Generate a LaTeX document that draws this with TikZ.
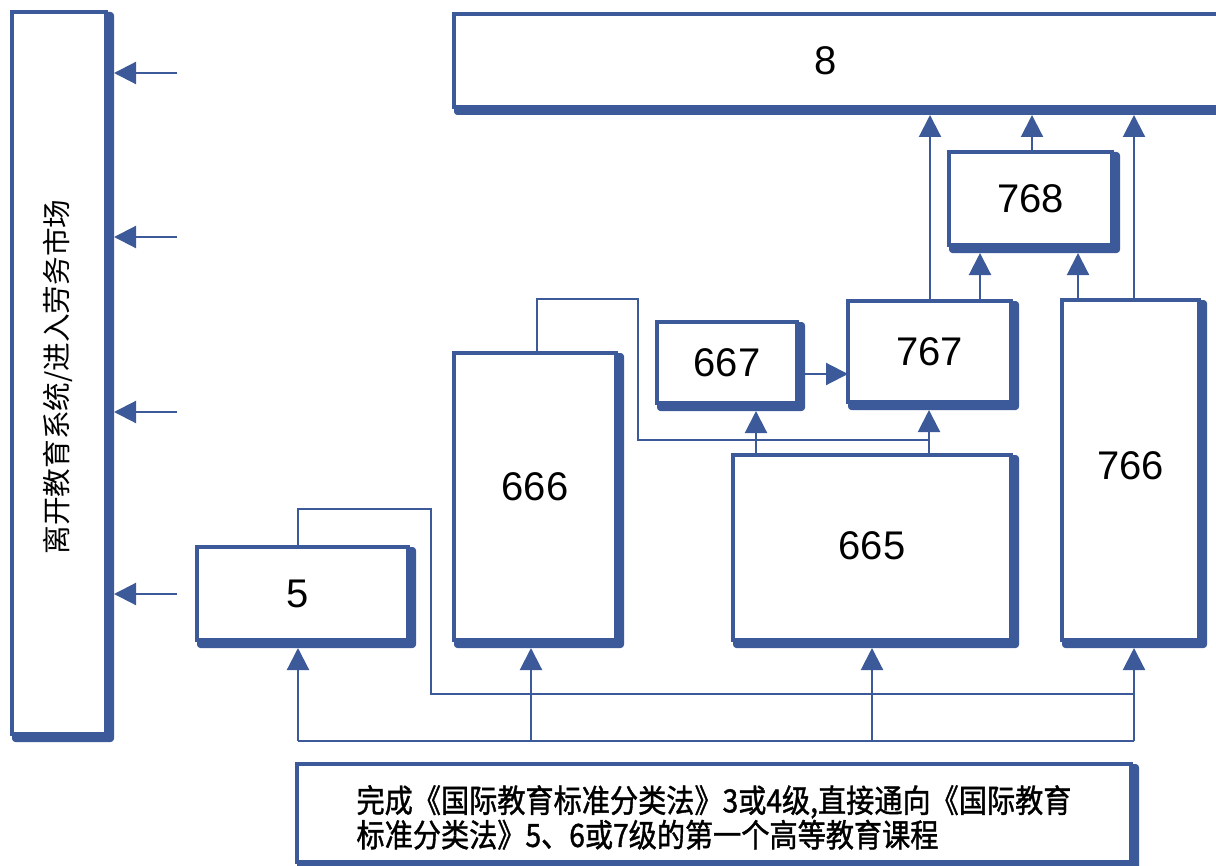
\documentclass[tikz,border=0pt]{standalone}
\usepackage{fontspec}
\usepackage{graphicx}
\usetikzlibrary{arrows.meta,backgrounds}
\newfontfamily\cjk{Noto Sans CJK SC}
\newfontfamily\cjkbf{Noto Sans CJK SC}[FakeBold=1.3]
\newfontfamily\arialf{Liberation Sans}
\definecolor{bl}{RGB}{60,90,153}
\tikzset{
  box/.style={draw=bl, line width=2.4pt, fill=white, inner sep=0pt, outer sep=0pt,
    font=\arialf\fontsize{30}{36}\selectfont},
  ln/.style={draw=bl, line width=1.6pt},
  arr/.style={ln, -{Triangle[length=16.5pt,width=16.5pt]}, fill=bl},
}
\newcommand{\mkbox}[6]{\node[box, minimum width={(#4-#2)*0.75pt}, minimum height={(#5-#3)*0.75pt}] (#1) at ({(#2+#4)/2},{(#3+#5)/2}) {#6};}
\begin{document}
\begin{tikzpicture}[x=0.75pt, y=-0.75pt]
\useasboundingbox (0,0) rectangle (1216,866);
\clip (0,0) rectangle (1216,866);
% boxes
\mkbox{lft}{12}{12}{106}{734}{}
\mkbox{b8}{454}{14}{1240}{107}{\hspace*{-32pt}8}
\mkbox{b768}{949}{152}{1112}{245}{\raisebox{-1pt}{768}}
\mkbox{b767}{848}{301}{1011}{402}{\raisebox{-1pt}{767}}
\mkbox{b667}{657}{322}{797}{403}{667}
\mkbox{b665}{733}{455}{1011}{640}{\raisebox{3.5pt}{665}}
\mkbox{b666}{454}{353}{616}{640}{\raisebox{15pt}{666}}
\mkbox{b766}{1062}{300}{1199}{640}{\raisebox{7pt}{766}}
\mkbox{b5}{197}{547}{408}{640}{\hspace*{-7pt}5}
\node[box, minimum width={(1131-297)*0.75pt}, minimum height={(862-764)*0.75pt},
  align=left, font=\cjkbf\fontsize{24pt}{24.75pt}\selectfont] (bot) at ({(297+1131)/2},{(764+862)/2})
  {\rule{0pt}{27pt}\scalebox{0.88}[1]{完成《国际教育标准分类法》3或4级,直接通向《国际教育}\\
   \scalebox{0.88}[1]{标准分类法》5、6或7级的第一个高等教育课程}};
\node[rotate=90, font=\cjk\fontsize{21.5pt}{24pt}\selectfont] (lt) at (58,377) {离开教育系统/进入劳务市场};
% shadows
\begin{scope}[on background layer]
\foreach \n in {lft,b8,b768,b767,b667,b665,b666,b766,b5,bot}
  \fill[bl, rounded corners=2.5pt] (\n.north west) rectangle ([shift={(8,8)}]\n.south east);
\end{scope}
% shadow-bottom coordinates
\foreach \n in {b8,b768,b767,b667,b665,b666,b766,b5}
  \coordinate (\n sb) at ([shift={(0,8)}]\n.south);
\coordinate (lfte) at ([shift={(8,0)}]lft.east);
% arrows to left box
\foreach \y [count=\i] in {73,237,412,594} {
  \coordinate (la\i) at (177,\y);
  \draw[arr] (la\i) -- (la\i -| lfte);
}
% bottom bus
\coordinate (bus5) at (298,741);
\coordinate (bus666) at (531,741);
\coordinate (bus665) at (872,741);
\coordinate (bus766) at (1134,741);
\draw[ln] (bus5) -- (bus766);
\draw[arr] (bus5) -- (bus5 |- b5sb);
\draw[arr] (bus666) -- (bus666 |- b666sb);
\draw[arr] (bus665) -- (bus665 |- b665sb);
\draw[arr] (bus766) -- (bus766 |- b766sb);
% loop from 5
\coordinate (j766) at (1134,694);
\draw[ln] (b5.north -| bus5) |- (431,509) |- (j766);
% loop from 666
\coordinate (k666) at (537,0);
\coordinate (j767) at (929,440);
\draw[ln] (b666.north -| k666) |- (638,299) |- (j767);
% 665 to 667 and 767
\coordinate (x667) at (756,0);
\coordinate (x767) at (929,0);
\draw[arr] (b665.north -| x667) -- (x667 |- b667sb);
\draw[arr] (b665.north -| x767) -- (x767 |- b767sb);
% 667 -> 767
\coordinate (y374) at (0,374);
\draw[arr] (y374 -| b667.east) -- (y374 -| b767.west);
% up to 768 and 8
\coordinate (x930) at (930,0);
\coordinate (x980) at (980,0);
\coordinate (x1032) at (1032,0);
\coordinate (x1078) at (1078,0);
\coordinate (x1134) at (1134,0);
\draw[arr] (b767.north -| x930) -- (x930 |- b8sb);
\draw[arr] (b767.north -| x980) -- (x980 |- b768sb);
\draw[arr] (b766.north -| x1078) -- (x1078 |- b768sb);
\draw[arr] (b766.north -| x1134) -- (x1134 |- b8sb);
\draw[arr] (b768.north -| x1032) -- (x1032 |- b8sb);
\end{tikzpicture}
\end{document}
